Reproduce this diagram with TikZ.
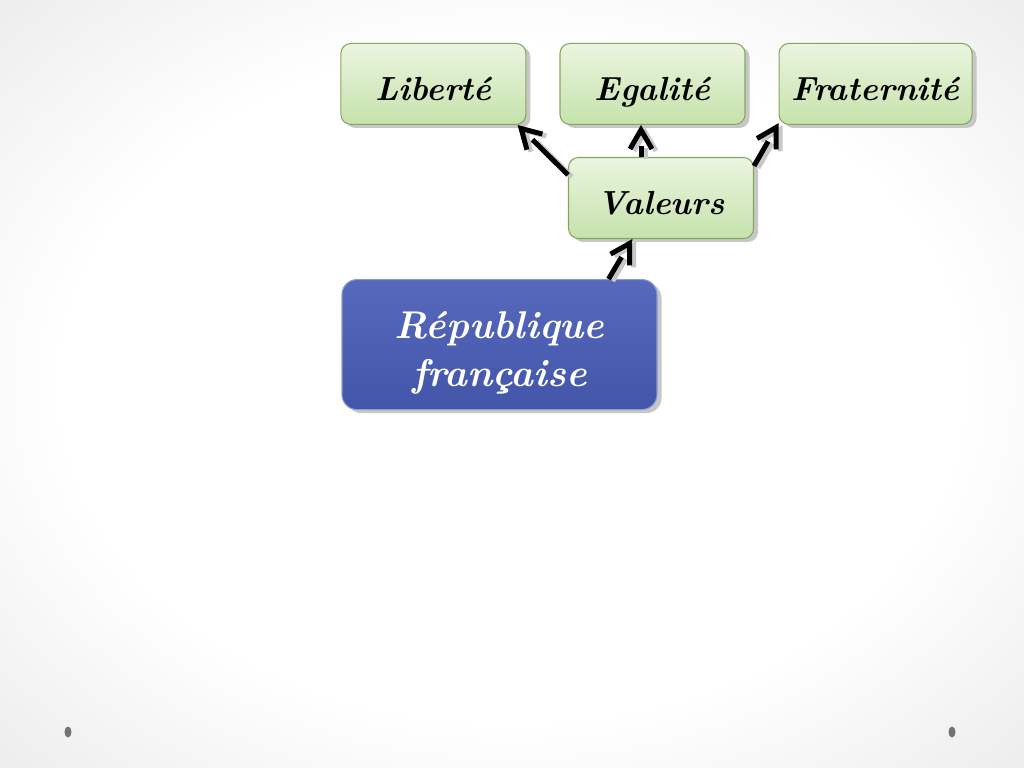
\documentclass[tikz,border=0pt]{standalone}
\usepackage{fontspec}
\usetikzlibrary{arrows.meta,positioning,shadows,decorations.markings}
\definecolor{grntop}{HTML}{EAF5DF}
\definecolor{grnbot}{HTML}{C6E2AC}
\definecolor{grnline}{HTML}{86A65F}
\definecolor{blutop}{HTML}{5669BC}
\definecolor{blubot}{HTML}{4255A8}
\definecolor{bluline}{HTML}{8A9CD6}
\pgfdeclareradialshading{slidebg}{\pgfpoint{0bp}{0bp}}{color(0bp)=(white);color(22bp)=(white);color(50bp)=(gray!30);color(75bp)=(gray!40)}
\tikzset{
  blk/.style={draw,rectangle,rounded corners=0.2cm,line width=0.6pt,align=center,
    font=\fontsize{19}{23}\selectfont\bfseries\itshape,
    drop shadow={shadow xshift=0.09cm,shadow yshift=-0.07cm,fill=black!22,opacity=1}},
  grnblk/.style={blk,top color=grntop,bottom color=grnbot,draw=grnline,minimum width=3.7cm,minimum height=1.62cm,
    text height=20pt,text depth=1pt},
  repblk/.style={blk,top color=blutop,bottom color=blubot,draw=bluline,text=white,rounded corners=0.3cm,
    minimum width=6.3cm,minimum height=2.6cm,font=\fontsize{22}{27}\selectfont\bfseries\itshape},
  arr/.style={line width=0.1cm,shorten >=0.42cm,postaction={decorate},
    decoration={markings,mark=at position 1 with {\arrow[line width=0.1cm]{Straight Barb[length=0.38cm,width=0.44cm]}}}},
  arrshd/.style={arr,draw=black!22,transform canvas={xshift=0.08cm,yshift=-0.04cm}},
  dot/.style={fill=black!55}
}
\begin{document}
\begin{tikzpicture}
  \useasboundingbox (0,0) rectangle (20.48,-15.36);
  \shade[shading=slidebg] (0,0) rectangle (20.48,-15.36);

  \node[grnblk] (val) at (13.22,-3.96) {Valeurs};
  \node[grnblk, above=0.64cm of val, xshift=-0.17cm] (ega) {Egalité};
  \node[grnblk, left=0.66cm of ega] (lib) {Liberté};
  \node[grnblk, right=0.66cm of ega, minimum width=3.86cm] (fra) {Fraternité};
  \node[repblk, below=0.8cm of val, xshift=-3.23cm] (rep) {\rule{0pt}{25pt}République\\française};

  % arrows with their shadow
  \foreach \s/\t in {val.166/lib.-26, val.19/fra.202, rep.31/val.235} {
    \draw[arrshd] (\s) -- (\t);
    \draw[arr] (\s) -- (\t);
  }
  \draw[arrshd] ([xshift=-0.4cm]val.north) -- ([xshift=-0.23cm]ega.south);
  \draw[arr] ([xshift=-0.4cm]val.north) -- ([xshift=-0.23cm]ega.south);

  \fill[dot] (1.36,-14.64) ellipse (0.07 and 0.11);
  \fill[dot] (19.04,-14.64) ellipse (0.07 and 0.11);
\end{tikzpicture}
\end{document}
